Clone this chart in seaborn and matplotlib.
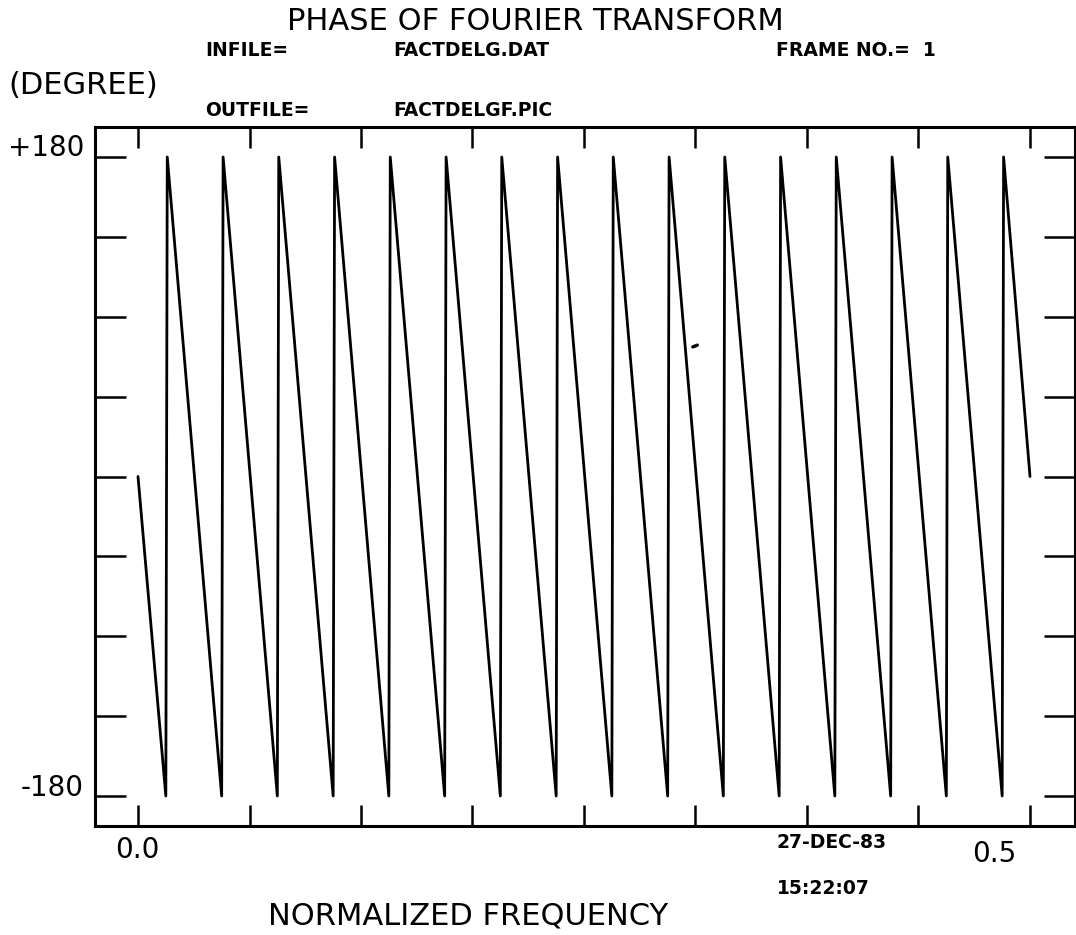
import matplotlib
matplotlib.use("Agg")
import matplotlib.pyplot as plt
import seaborn as sns
import pandas as pd

# ---- data ----
freq = [0.0, 0.0156, 0.0164, 0.0469, 0.0477, 0.0781, 0.0789, 0.1094, 0.1102,
        0.1406, 0.1414, 0.1719, 0.1727, 0.2031, 0.2039, 0.2344, 0.2352,
        0.2656, 0.2664, 0.2969, 0.2977, 0.3281, 0.3289, 0.3594, 0.3602,
        0.3906, 0.3914, 0.4219, 0.4227, 0.4531, 0.4539, 0.4844, 0.4852, 0.5]
phase = [0, -180, 180, -180, 180, -180, 180, -180, 180,
         -180, 180, -180, 180, -180, 180, -180, 180,
         -180, 180, -180, 180, -180, 180, -180, 180,
         -180, 180, -180, 180, -180, 180, -180, 180, 0]
stray_freq = [0.3110, 0.3135]
stray_phase = [73, 74]
x_ticks = [0.0, 0.0625, 0.125, 0.1875, 0.25, 0.3125, 0.375, 0.4375, 0.5]
y_ticks = [-180, -135, -90, -45, 0, 45, 90, 135, 180]

sns.set_theme(style="white")
plt.rcParams['font.family'] = ['DejaVu Sans']

W, H = 1076, 935
fig = plt.figure(figsize=(W / 100, H / 100), dpi=100)
L, R, T, B = 95, 1075, 127, 826
ax = fig.add_axes([L / W, 1 - B / H, (R - L) / W, (B - T) / H])

df = pd.DataFrame({"freq": freq, "phase": phase})
sns.lineplot(data=df, x="freq", y="phase", sort=False, estimator=None,
             color="black", lw=2.0, ax=ax)
sns.lineplot(x=stray_freq, y=stray_phase, sort=False, estimator=None,
             color="black", lw=2.4, ax=ax)

# axis limits (pixel mapping: f=0 -> x138, f=0.5 -> x1030; +180 -> y157, -180 -> y796)
px_per_f = (1030 - 138) / 0.5
px_per_deg = (796 - 157) / 360
ax.set_xlim((L - 138) / px_per_f, (R - 138) / px_per_f)
ax.set_ylim(-180 - (B - 796) / px_per_deg, 180 + (157 - T) / px_per_deg)

ax.set_xticks(x_ticks)
ax.set_yticks(y_ticks)
ax.set_xticklabels([])
ax.set_yticklabels([])
ax.tick_params(axis="x", which="major", direction="in", length=15, width=1.8,
               top=True, bottom=True, color="black")
ax.tick_params(axis="y", which="major", direction="in", length=22, width=1.8,
               left=True, right=True, color="black")
for s in ax.spines.values():
    s.set_color("black")
    s.set_linewidth(2.2)
ax.set_xlabel("")
ax.set_ylabel("")
ax.grid(False)


def ftext(x, y, s, **kw):
    fig.text(x / W, 1 - y / H, s, color="black", **kw)


ftext(535, 22, "PHASE OF FOURIER TRANSFORM", fontsize=22, ha="center", va="center")
small = dict(fontsize=13.5, fontweight="bold", ha="left", va="center")
ftext(205, 51, "INFILE=", **small)
ftext(393, 51, "FACTDELG.DAT", **small)
ftext(776, 51, "FRAME NO.=  1", **small)
ftext(205, 110, "OUTFILE=", **small)
ftext(393, 110, "FACTDELGF.PIC", **small)
ftext(8, 85, "(DEGREE)", fontsize=22, ha="left", va="center")
ftext(84, 148, "+180", fontsize=20, ha="right", va="center")
ftext(84, 788, "-180", fontsize=20, ha="right", va="center")
ftext(137, 850, "0.0", fontsize=20, ha="center", va="center")
ftext(994, 854, "0.5", fontsize=20, ha="center", va="center")
ftext(777, 843, "27-DEC-83", **small)
ftext(777, 888, "15:22:07", **small)
ftext(468, 916, "NORMALIZED FREQUENCY", fontsize=22, ha="center", va="center")

fig.savefig("out.png", dpi=100, facecolor="white")
